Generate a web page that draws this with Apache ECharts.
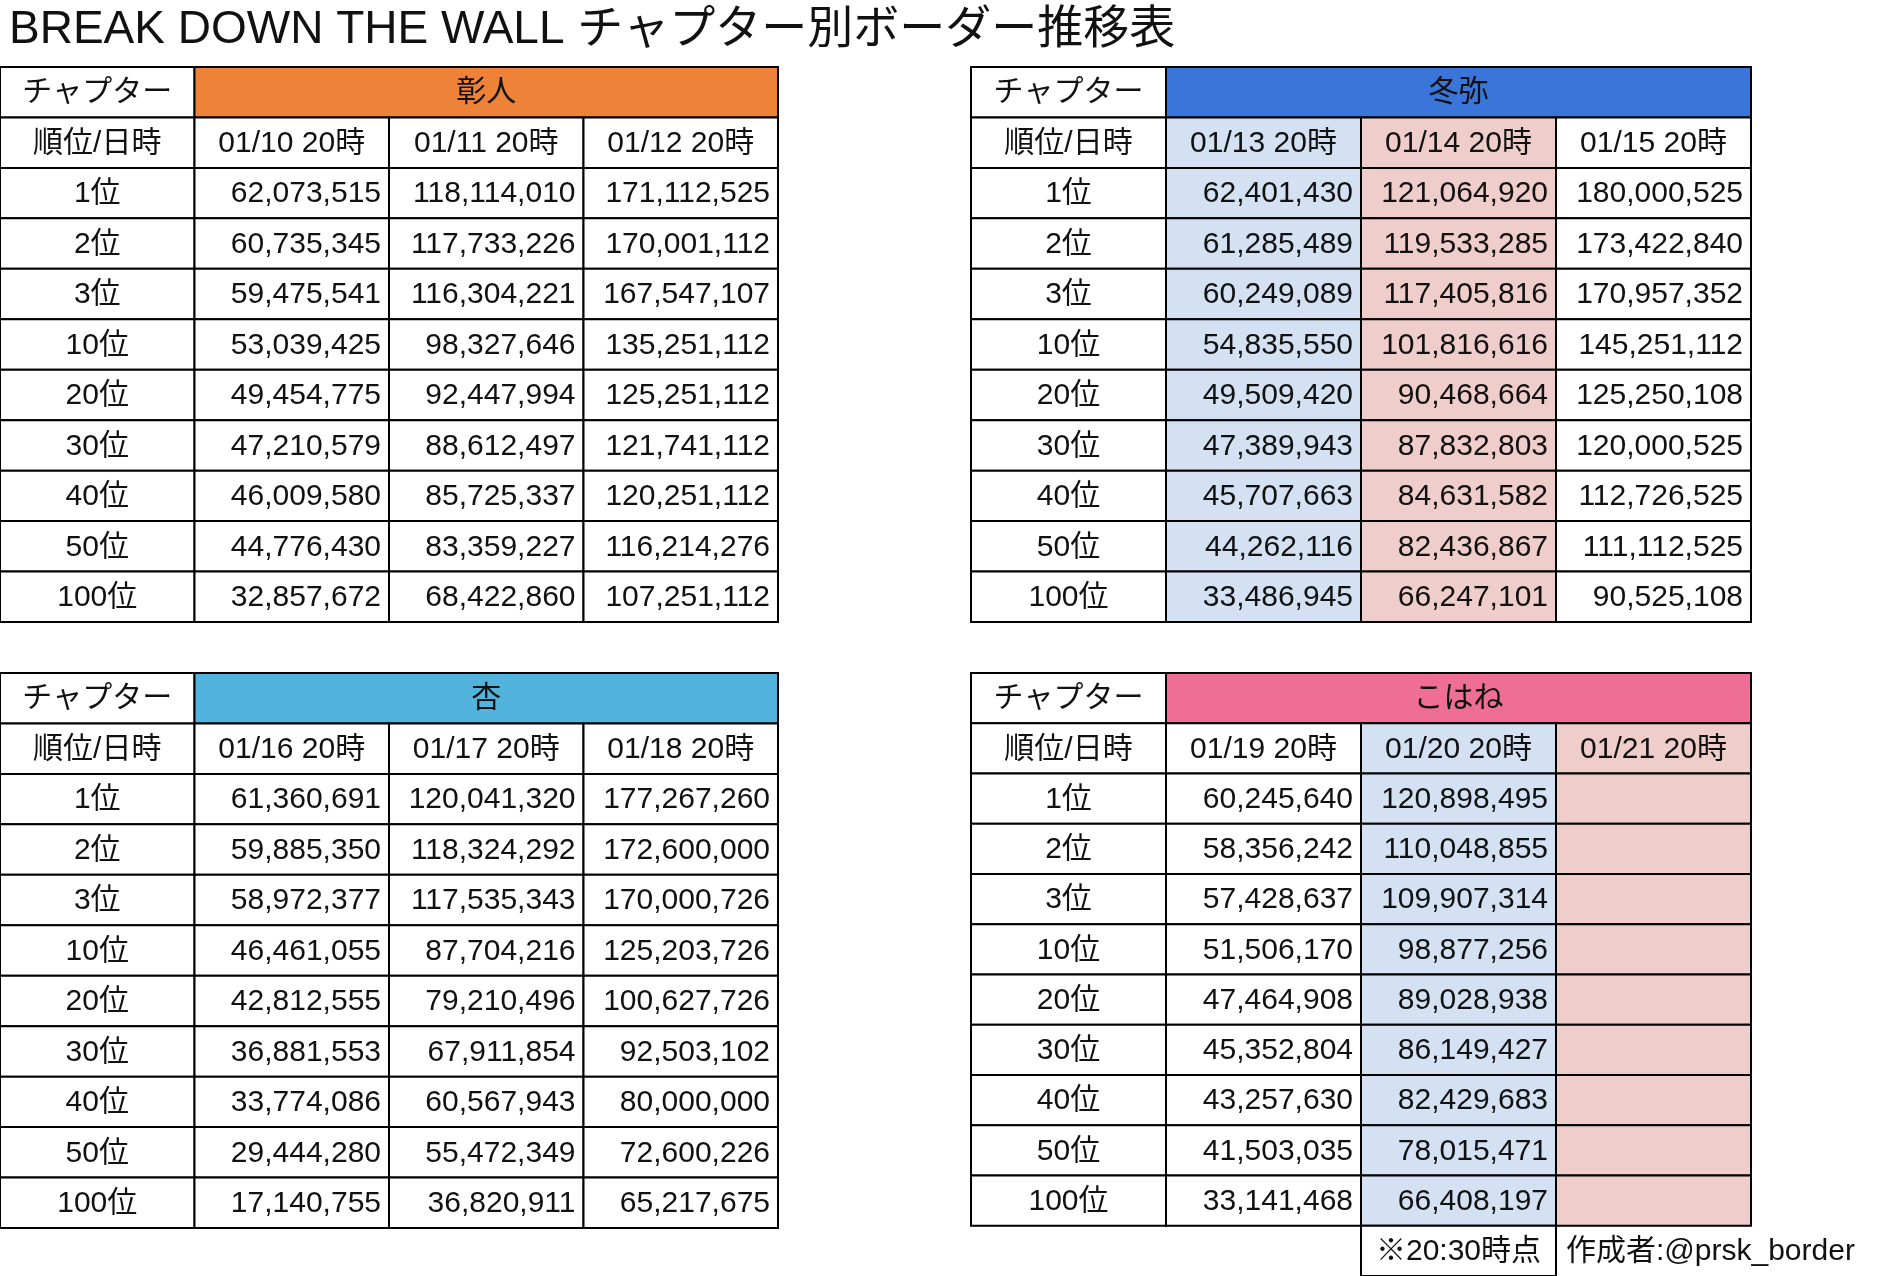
<!DOCTYPE html>
<html><head><meta charset="utf-8">
<script src="https://cdn.jsdelivr.net/npm/echarts@6/dist/echarts.min.js"></script>
<style>html,body{margin:0;padding:0;background:#fff}#main{width:1891px;height:1276px}</style>
</head><body><div id="main"></div>
<script>
var title = 'BREAK DOWN THE WALL チャプター別ボーダー推移表';
var ranks = ['1位','2位','3位','10位','20位','30位','40位','50位','100位'];
var names = ['彰人','冬弥','杏','こはね'];
var dates = [
    ['01/10 20時','01/11 20時','01/12 20時'],
    ['01/13 20時','01/14 20時','01/15 20時'],
    ['01/16 20時','01/17 20時','01/18 20時'],
    ['01/19 20時','01/20 20時','01/21 20時']
];
// 各チャプターの値 (列ごと)
var akito = [
    [62073515,60735345,59475541,53039425,49454775,47210579,46009580,44776430,32857672],
    [118114010,117733226,116304221,98327646,92447994,88612497,85725337,83359227,68422860],
    [171112525,170001112,167547107,135251112,125251112,121741112,120251112,116214276,107251112]
];
var toya = [
    [62401430,61285489,60249089,54835550,49509420,47389943,45707663,44262116,33486945],
    [121064920,119533285,117405816,101816616,90468664,87832803,84631582,82436867,66247101],
    [180000525,173422840,170957352,145251112,125250108,120000525,112726525,111112525,90525108]
];
var an = [
    [61360691,59885350,58972377,46461055,42812555,36881553,33774086,29444280,17140755],
    [120041320,118324292,117535343,87704216,79210496,67911854,60567943,55472349,36820911],
    [177267260,172600000,170000726,125203726,100627726,92503102,80000000,72600226,65217675]
];
var kohane = [
    [60245640,58356242,57428637,51506170,47464908,45352804,43257630,41503035,33141468],
    [120898495,110048855,109907314,98877256,89028938,86149427,82429683,78015471,66408197],
    [null,null,null,null,null,null,null,null,null]
];
var values = [akito, toya, an, kohane];
var headColors = ['#EF8239','#3A75DA','#52B4DC','#EE6E97'];
// 列の背景色 (日付行+数値行)
var colFill = [
    ['#fff','#fff','#fff'],
    ['#D3E1F3','#EECDCB','#fff'],
    ['#fff','#fff','#fff'],
    ['#fff','#D3E1F3','#EECDCB']
];
var note = '※20:30時点';
var author = '作成者:@prsk_border';

var FONT = '"Liberation Sans","Noto Sans CJK JP",sans-serif';
var fmt = function(v){ return v == null ? '' : v.toLocaleString('en-US'); };

var grids = [
    {left:0, top:67, width:778, height:555},
    {left:971, top:67, width:780, height:555},
    {left:0, top:673, width:778, height:555},
    {left:971, top:673, width:780, height:605}
];
var xAxes = [], yAxes = [], series = [];
grids.forEach(function(g, t){
    var nRows = t === 3 ? 12 : 11;
    var rows = []; for (var i = 0; i < nRows; i++) rows.push('r' + i);
    xAxes.push({type:'category', gridIndex:t, data:['c0','c1','c2','c3'], show:false});
    yAxes.push({type:'category', gridIndex:t, data:rows, inverse:true, show:false});
    var data = [];
    data.push([0,0,'チャプター','#fff','center',1,1]);
    data.push([1,0,names[t],headColors[t],'center',3,1]);
    data.push([0,1,'順位/日時','#fff','center',1,1]);
    for (var c = 0; c < 3; c++) data.push([c+1,1,dates[t][c],colFill[t][c],'center',1,1]);
    ranks.forEach(function(r, i){
        data.push([0,i+2,r,'#fff','center',1,1]);
        for (var c = 0; c < 3; c++) data.push([c+1,i+2,fmt(values[t][c][i]),colFill[t][c],'right',1,1]);
    });
    if (t === 3) {
        data.push([2,11,note,'#fff','center',1,1]);
        data.push([3,11,author,'none','left',1,0]);
    }
    series.push({
        type:'custom', xAxisIndex:t, yAxisIndex:t, data:data, silent:true,
        renderItem:function(params, api){
            var d = data[params.dataIndex];
            var p = api.coord([d[0], d[1]]);
            var s = api.size([1, 1]);
            var x = p[0] - s[0]/2, y = p[1] - s[1]/2, w = s[0]*d[5], h = s[1];
            var tx = d[4] === 'right' ? x + w - 8 : (d[4] === 'left' ? x + 10 : x + w/2);
            return {type:'group', children:[
                {type:'rect', shape:{x:x, y:y, width:w, height:h},
                 style:{fill:d[3], stroke:d[6] ? '#000' : null, lineWidth:2}},
                {type:'text', style:{x:tx, y:y + h/2 + 1, text:d[2], fill:'#111',
                 font:'30px ' + FONT, align:d[4], verticalAlign:'middle'}}
            ]};
        }
    });
});

var chart = echarts.init(document.getElementById('main'));
chart.setOption({
    animation:false,
    title:{text:title, left:4, top:2, textStyle:{fontSize:46, fontWeight:'normal', color:'#111', fontFamily:FONT}},
    grid:grids, xAxis:xAxes, yAxis:yAxes, series:series
});
</script></body></html>
